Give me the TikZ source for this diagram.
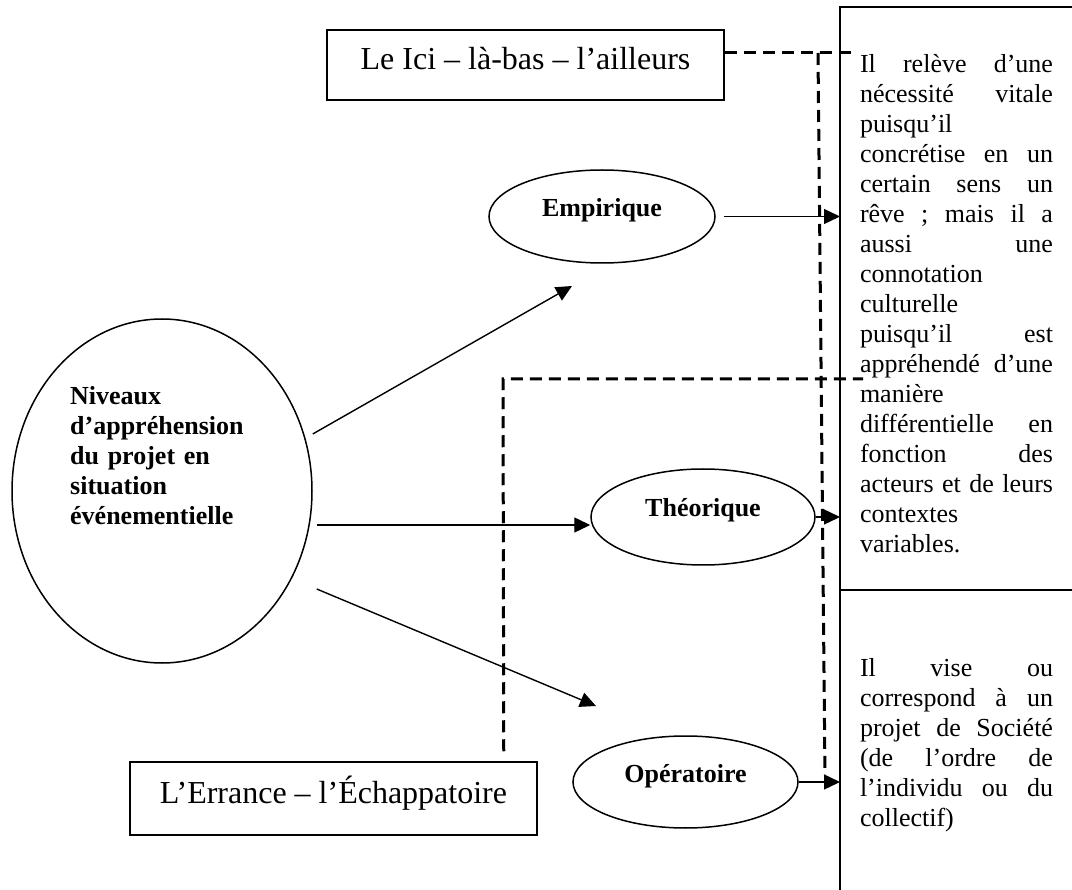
\documentclass[tikz,border=0pt]{standalone}
\usepackage{fontspec}
\setmainfont{Liberation Serif}
\usetikzlibrary{arrows.meta,positioning,calc,shapes.geometric}
\tikzset{
  boxtext/.style={font=\fontsize{32}{36}\selectfont,text height=22pt,text depth=12pt},
  labelbox/.style={boxtext,draw,line width=1.5pt,inner sep=0pt},
  oval/.style={ellipse,draw,line width=1.5pt,inner sep=0pt,font=\bfseries\fontsize{26}{30}\selectfont,text height=10pt,text depth=10pt},
  ovaltext/.style={font=\bfseries\fontsize{26}{30}\selectfont,align=left,text width=190pt,inner sep=0pt},
  cell/.style={draw,line width=1.5pt,outer sep=0pt,inner xsep=20pt,inner ysep=0pt,anchor=north west,font=\fontsize{26}{30}\selectfont,align=left,text width=193pt},
  arr/.style={-{Triangle[length=16pt,width=15pt]},line width=1.4pt},
  dashline/.style={line width=3pt,dash pattern=on 12pt off 7pt}
}
\begin{document}
\begin{tikzpicture}[x=1pt,y=-1pt]
\path[use as bounding box] (0,0) rectangle (1072,890);
\node[cell,minimum height=583pt,text height=29pt] (cellA) at (840,7) {Il\hfill relève\hfill d’une\\nécessité\hfill vitale\\puisqu’il\\concrétise\hfill en\hfill un\\certain\hfill sens\hfill un\\rêve\hfill ;\hfill mais\hfill il\hfill a\\aussi\hfill une\\connotation\\culturelle\\puisqu’il\hfill est\\appréhendé\hfill d’une\\manière\\différentielle\hfill en\\fonction\hfill des\\acteurs\hfill et\hfill de\hfill leurs\\contextes\\variables.};
\node[cell,minimum height=311pt] (cellB) at (840,590) {Il\hfill vise\hfill ou\\correspond\hfill à\hfill un\\projet\hfill de\hfill Société\\(de\hfill l’ordre\hfill de\\l’individu\hfill ou\hfill du\\collectif)};
\node[labelbox,minimum width=397pt,minimum height=70pt] (lici) at (525.5,65) {Le Ici – là-bas – l’ailleurs};
\node[labelbox,minimum width=407pt,minimum height=73pt] (lerr) at (333.5,798.5) {L’Errance – l’Échappatoire};
\node[oval,minimum width=300pt,minimum height=344pt] (niveaux) at (162,491) {};
\node[ovaltext,anchor=base west] (niveauxlbl) at (70,405) {Niveaux\\d’appréhension\\du projet en\\situation\\événementielle};
\node[oval,minimum width=226pt,minimum height=93pt] (empirique) at (602,216.5) {Empirique};
\node[oval,minimum width=224pt,minimum height=96pt] (theorique) at (703,517) {Théorique};
\node[oval,minimum width=225pt,minimum height=92pt] (operatoire) at (685.5,782) {Opératoire};
\coordinate (emp-in) at (572,286);
\coordinate (op-in) at (596,706);
\coordinate (ici-end) at (852,53);
\coordinate (ici-turn) at (818,53);
\coordinate (ici-foot) at (825,775);
\coordinate (err-turn) at (503,379);
\coordinate (err-end) at (863,379);
\draw[arr] ($(niveaux.east)+(0,-57)$) -- (emp-in);
\draw[arr] ($(niveaux.east)+(4,34)$) coordinate (niv-mid) -- (niv-mid -| theorique.west);
\draw[arr] ($(niveaux.east)+(4,98)$) -- (op-in);
\draw[arr,shorten <=8pt] (empirique.east) -- (empirique.east -| cellA.west);
\draw[arr] (theorique.east) -- (theorique.east -| cellA.west);
\draw[arr] (operatoire.east) -- (operatoire.east -| cellB.west);
\draw[dashline] (lici.east |- ici-end) -- (ici-end);
\draw[dashline] (ici-turn) -- (ici-foot);
\draw[dashline] ($(lerr.north east)+(-34,-10)$) -- (err-turn) -- (err-end);
\end{tikzpicture}
\end{document}
